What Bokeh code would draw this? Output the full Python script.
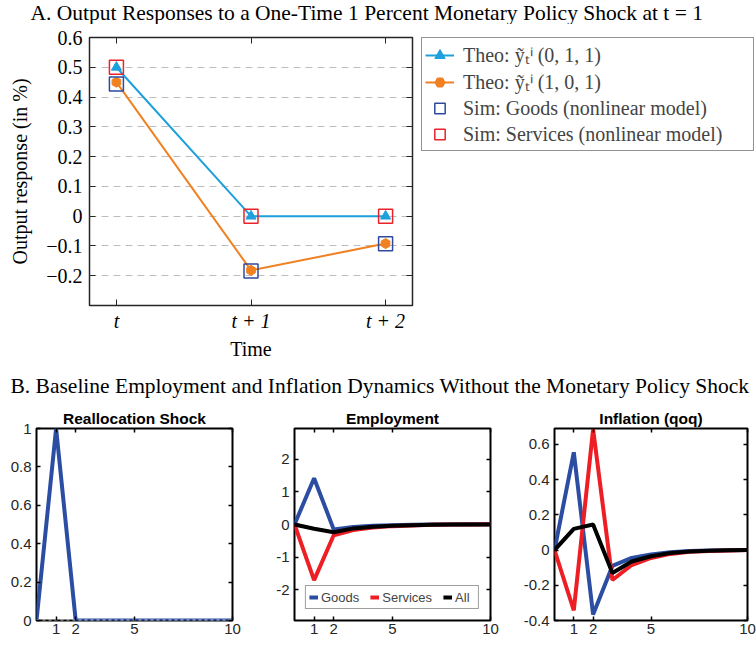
from bokeh.plotting import figure
from bokeh.models import (Range1d, FixedTicker, LinearAxis, Legend, LegendItem, Label,
                          CustomJSTickFormatter)
from bokeh.layouts import column, row
from bokeh.embed import file_html
from bokeh.resources import INLINE

# ---------------- Panel A data ----------------
periods_a = [1, 2, 3]
period_labels_a = ["t", "t + 1", "t + 2"]
theo_011 = [0.5, 0.0, 0.0]
theo_101 = [0.45, -0.182, -0.092]
sim_goods = [0.444, -0.184, -0.093]
sim_services = [0.5, 0.0, 0.0]
yticks_a = [-0.2, -0.1, 0.0, 0.1, 0.2, 0.3, 0.4, 0.5, 0.6]
ytick_labels_a = ["\u22120.2", "\u22120.1", "0", "0.1", "0.2", "0.3", "0.4", "0.5", "0.6"]
legend_labels_a = ["Theo: \u1ef9\u209c\u2071 (0, 1, 1)", "Theo: \u1ef9\u209c\u2071 (1, 0, 1)",
                   "Sim: Goods (nonlinear model)", "Sim: Services (nonlinear model)"]

# ---------------- Panel B data ----------------
quarters = [0, 1, 2, 3, 4, 5, 6, 7, 8, 9, 10]
xticks_b = [1, 2, 5, 10]
realloc_shock = [0, 1, 0, 0, 0, 0, 0, 0, 0, 0, 0]
emp_goods = [0, 1.42, -0.15, -0.08, -0.04, -0.02, -0.01, 0.0, 0.0, 0.01, 0.01]
emp_services = [0, -1.71, -0.33, -0.17, -0.09, -0.05, -0.03, -0.01, 0.0, 0.0, 0.01]
emp_all = [0, -0.13, -0.24, -0.12, -0.07, -0.04, -0.02, -0.01, 0.0, 0.0, 0.0]
inf_goods = [0, 0.555, -0.366, -0.09, -0.045, -0.025, -0.012, -0.006, -0.003, -0.001, 0.0]
inf_services = [0, -0.342, 0.686, -0.17, -0.085, -0.045, -0.022, -0.01, -0.005, -0.002, 0.0]
inf_all = [0, 0.12, 0.145, -0.13, -0.065, -0.035, -0.017, -0.008, -0.004, -0.001, 0.0]
yticks_shock = [0, 0.2, 0.4, 0.6, 0.8, 1]
ylabels_shock = ["0", "0.2", "0.4", "0.6", "0.8", "1"]
yticks_emp = [-2, -1, 0, 1, 2]
ylabels_emp = ["-2", "-1", "0", "1", "2"]
yticks_inf = [-0.4, -0.2, 0, 0.2, 0.4, 0.6]
ylabels_inf = ["-0.4", "-0.2", "0", "0.2", "0.4", "0.6"]

SERIF = "Liberation Serif"
SANS = "Liberation Sans"
C_LB = "#1ea0dc"
C_OR = "#f08020"
C_SQB = "#2e4a9e"
C_SQR = "#e8232b"
C_BLUE = "#2b4ea3"
C_RED = "#ed1e24"


def empty_fmt():
    return CustomJSTickFormatter(code="return ''")


def title_fig(text, height, x_px, y_px):
    t = figure(width=756, height=height, x_range=Range1d(0, 1), y_range=Range1d(0, 1),
               x_axis_type=None, y_axis_type=None, output_backend="svg",
               toolbar_location=None, min_border_left=0, min_border_right=0,
               min_border_top=0, min_border_bottom=0)
    t.outline_line_color = None
    t.title.text = ""
    t.title.standoff = 0
    t.add_layout(Label(x=x_px, y=y_px, x_units="screen", y_units="screen", text=text,
                       text_font=SERIF, text_font_size="21.5px", text_color="black",
                       text_baseline="middle", text_align="left"))
    return t


tA = title_fig("A. Output Responses to a One-Time 1 Percent Monetary Policy Shock at t = 1",
               24, 30, 12)
tB = title_fig("B. Baseline Employment and Inflation Dynamics Without the Monetary Policy Shock",
               36, 10, 13)

# ---------------- Panel A figure ----------------
pA = figure(width=416, height=338, x_range=Range1d(0.8, 3.2), y_range=Range1d(-0.3, 0.6),
            output_backend="svg", toolbar_location=None,
            min_border_left=89, min_border_right=4, min_border_top=13, min_border_bottom=56)
pA.title.text = ""
pA.title.standoff = 0
pA.outline_line_color = "#262626"
pA.outline_line_width = 1.5
pA.xgrid.visible = False
pA.ygrid.ticker = FixedTicker(ticks=yticks_a)
pA.ygrid.grid_line_color = "#bdbdbd"
pA.ygrid.grid_line_dash = "7 5"
pA.ygrid.grid_line_width = 1.2

pA.xaxis.ticker = FixedTicker(ticks=periods_a)
pA.xaxis.major_label_overrides = dict(zip(periods_a, period_labels_a))
pA.yaxis.ticker = FixedTicker(ticks=yticks_a)
pA.yaxis.major_label_overrides = dict(zip(yticks_a, ytick_labels_a))
for ax in (pA.xaxis[0], pA.yaxis[0]):
    ax.major_label_text_font = SERIF
    ax.major_label_text_font_size = "20px"
    ax.major_label_text_color = "black"
    ax.axis_label_text_font = SERIF
    ax.axis_label_text_font_size = "20px"
    ax.axis_label_text_font_style = "normal"
    ax.axis_label_text_color = "black"
    ax.axis_line_color = None
    ax.major_tick_in = 6
    ax.major_tick_out = 0
    ax.major_tick_line_color = "#262626"
    ax.minor_tick_line_color = None
pA.xaxis.major_label_text_font_style = "italic"
pA.xaxis.axis_label = "Time"
pA.yaxis.axis_label = "Output response (in %)"
pA.xaxis.major_label_standoff = 4
pA.xaxis.axis_label_standoff = 3
pA.yaxis.major_label_standoff = 7
pA.yaxis.axis_label_standoff = 12

ax_top = LinearAxis(ticker=FixedTicker(ticks=periods_a), formatter=empty_fmt(),
                    major_tick_in=6, major_tick_out=0, major_tick_line_color="#262626",
                    minor_tick_line_color=None, axis_line_color=None,
                    major_label_text_font_size="1px", major_label_standoff=0)
pA.add_layout(ax_top, "above")
ax_right = LinearAxis(ticker=FixedTicker(ticks=yticks_a), formatter=empty_fmt(),
                      major_tick_in=6, major_tick_out=0, major_tick_line_color="#262626",
                      minor_tick_line_color=None, axis_line_color=None,
                      major_label_text_font_size="1px", major_label_standoff=0)
pA.add_layout(ax_right, "right")


def draw_series(p):
    l1 = p.line(periods_a, theo_011, line_color=C_LB, line_width=2)
    m1 = p.scatter(periods_a, theo_011, marker="triangle", size=10, color=C_LB)
    l2 = p.line(periods_a, theo_101, line_color=C_OR, line_width=2)
    m2 = p.scatter(periods_a, theo_101, marker="hex", size=10, color=C_OR, angle=0.5236)
    s1 = p.scatter(periods_a, sim_goods, marker="square", size=14, fill_color=None,
                   line_color=C_SQB, line_width=1.5)
    s2 = p.scatter(periods_a, sim_services, marker="square", size=14, fill_color=None,
                   line_color=C_SQR, line_width=1.5)
    return [[l1, m1], [l2, m2], [s1], [s2]]


draw_series(pA)

# legend figure (same series, drawn outside its visible range so only the legend shows)
legfig = figure(width=340, height=338, x_range=Range1d(10, 11), y_range=Range1d(10, 11),
                x_axis_type=None, y_axis_type=None, output_backend="svg",
                toolbar_location=None, min_border_left=5, min_border_right=0,
                min_border_top=13, min_border_bottom=0)
legfig.outline_line_color = None
legfig.title.text = ""
legfig.title.standoff = 0
leg_renderers = draw_series(legfig)
legA = Legend(items=[LegendItem(label=lab, renderers=r)
                     for lab, r in zip(legend_labels_a, leg_renderers)],
              location="top_left", label_text_font=SERIF, label_text_font_size="20px",
              label_height=26, glyph_height=26, glyph_width=29, label_width=287, spacing=0,
              padding=3, label_standoff=9, border_line_color="#262626",
              border_line_width=1.2, margin=0, background_fill_color="white")
legfig.add_layout(legA, "center")


# ---------------- Panel B figures ----------------
def small_panel(title, yr, yticks, ylabels, width, left, right):
    p = figure(width=width, height=247, x_range=Range1d(0, 10), y_range=yr,
               output_backend="svg", toolbar_location=None,
               min_border_left=left, min_border_right=right, min_border_top=30,
               min_border_bottom=25)
    p.title.text = title
    p.title.align = "center"
    p.title.text_font = SANS
    p.title.text_font_size = "15.5px"
    p.title.text_font_style = "bold"
    p.title.text_color = "black"
    p.title.standoff = 3
    p.grid.visible = False
    p.outline_line_color = "black"
    p.outline_line_width = 2
    p.xaxis.ticker = FixedTicker(ticks=xticks_b)
    p.yaxis.ticker = FixedTicker(ticks=yticks)
    p.yaxis.major_label_overrides = dict(zip(yticks, ylabels))
    for ax in (p.xaxis[0], p.yaxis[0]):
        ax.major_label_text_font = SANS
        ax.major_label_text_font_size = "15px"
        ax.major_label_text_color = "#262626"
        ax.axis_line_color = None
        ax.major_tick_in = 4
        ax.major_tick_out = 0
        ax.major_tick_line_color = "black"
        ax.major_tick_line_width = 1.5
        ax.minor_tick_line_color = None
    p.xaxis.major_label_standoff = 3
    p.yaxis.major_label_standoff = 5
    at = LinearAxis(ticker=FixedTicker(ticks=xticks_b), formatter=empty_fmt(),
                    major_tick_in=4, major_tick_out=0, major_tick_line_color="black",
                    major_tick_line_width=1.5, minor_tick_line_color=None,
                    axis_line_color=None, major_label_text_font_size="1px",
                    major_label_standoff=0)
    p.add_layout(at, "above")
    ar = LinearAxis(ticker=FixedTicker(ticks=yticks), formatter=empty_fmt(),
                    major_tick_in=4, major_tick_out=0, major_tick_line_color="black",
                    major_tick_line_width=1.5, minor_tick_line_color=None,
                    axis_line_color=None, major_label_text_font_size="1px",
                    major_label_standoff=0)
    p.add_layout(ar, "right")
    return p


f1 = small_panel("Reallocation Shock", Range1d(0, 1), yticks_shock, ylabels_shock, 263, 36, 31)
f1.line(quarters, realloc_shock, line_color=C_BLUE, line_width=4)
f1.line(quarters, [0] * len(quarters), line_color="#c8c8c8", line_width=2, line_dash="3 3")

f2 = small_panel("Employment", Range1d(-2.95, 2.95), yticks_emp, ylabels_emp, 257, 31, 30)
g2 = f2.line(quarters, emp_goods, line_color=C_BLUE, line_width=4)
s2b = f2.line(quarters, emp_services, line_color=C_RED, line_width=4)
a2 = f2.line(quarters, emp_all, line_color="black", line_width=4)
leg2 = Legend(items=[LegendItem(label="Goods", renderers=[g2]),
                     LegendItem(label="Services", renderers=[s2b]),
                     LegendItem(label="All", renderers=[a2])],
              location="bottom_center", orientation="horizontal",
              label_text_font=SANS, label_text_font_size="13px",
              glyph_width=9, glyph_height=16, label_height=16, label_standoff=3,
              spacing=11, padding=3, margin=11, border_line_color="#404040",
              border_line_width=1.2, background_fill_color="white")
f2.add_layout(leg2, "center")

f3 = small_panel("Inflation (qoq)", Range1d(-0.4, 0.69), yticks_inf, ylabels_inf, 236, 31, 9)
f3.line(quarters, inf_goods, line_color=C_BLUE, line_width=4)
f3.line(quarters, inf_services, line_color=C_RED, line_width=4)
f3.line(quarters, inf_all, line_color="black", line_width=4)

layout = column(tA, row(pA, legfig), tB, row(f1, f2, f3))

with open("out.html", "w") as fh:
    fh.write(file_html(layout, INLINE))
